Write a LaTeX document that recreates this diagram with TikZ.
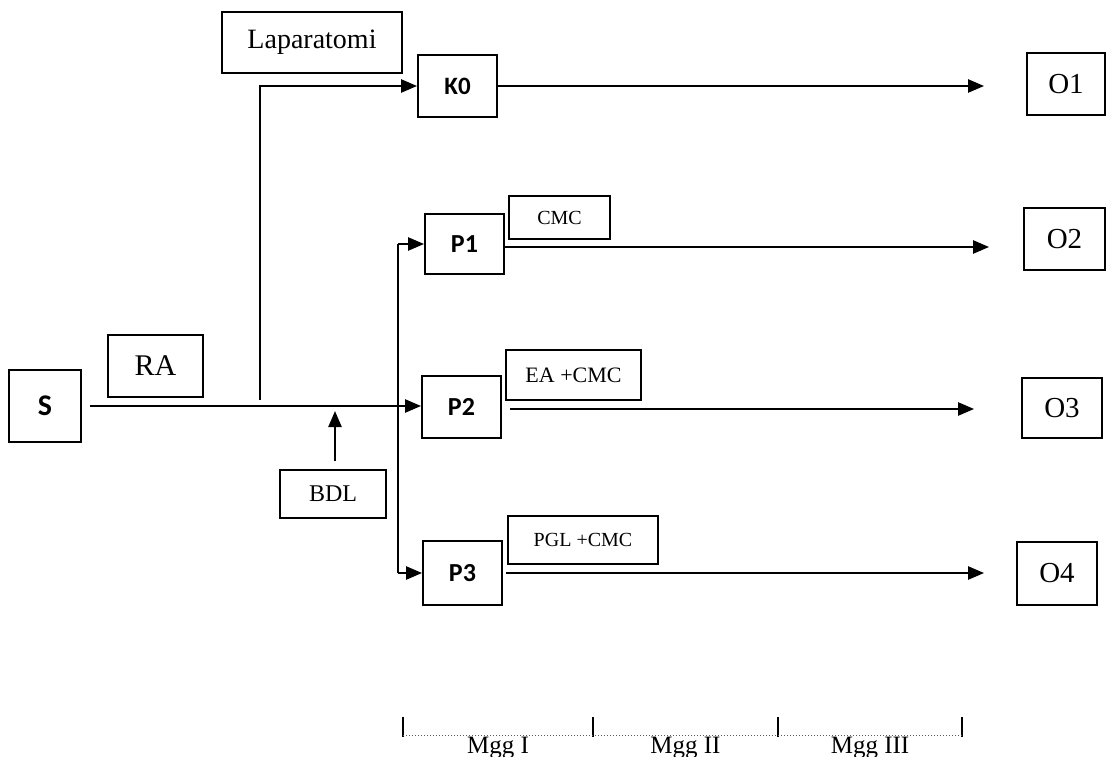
\documentclass[tikz,border=0pt]{standalone}
\usepackage{fontspec}
\setmainfont{Liberation Serif}
\newfontfamily\calib{Carlito}
\usetikzlibrary{arrows.meta,calc}
\tikzset{
  box/.style={draw, line width=1.8pt, rectangle, inner sep=0pt, minimum width=#1},
  sbox/.style={box=79pt, minimum height=62pt, font=\calib\bfseries\fontsize{26}{30}\selectfont},
  obox/.style={box=80pt, minimum height=62pt, font=\fontsize{29}{34}\selectfont},
  lbl/.style={box=#1, font=\fontsize{20}{24}\selectfont},
  conn/.style={line width=2.3pt},
  arr/.style={line width=2.3pt, -{Triangle[length=16pt,width=13pt]}},
  tick/.style={line width=1.6pt},
  mgg/.style={font=\fontsize{25}{30}\selectfont, inner sep=0pt, anchor=north}
}
\begin{document}
\begin{tikzpicture}[x=1pt,y=-1pt]
\useasboundingbox (0,0) rectangle (1106,757);
% nodes
\node[box=72pt, minimum height=72pt, font=\calib\bfseries\fontsize{30}{34}\selectfont] (S) at (45,406) {S};
\node[box=95pt, minimum height=62pt, font=\fontsize{30}{34}\selectfont] (RA) at (155.5,366) {RA};
\node[box=180pt, minimum height=61pt, font=\fontsize{28}{32}\selectfont] (Lap) at (312,42.5) {Laparatomi};
\node[sbox, font=\calib\bfseries\fontsize{25}{28}\selectfont] (K0) at (457.5,86) {K0};
\node[box=106pt, minimum height=48pt, font=\fontsize{24}{28}\selectfont] (BDL) at (333,494) {BDL};
\node[sbox, minimum height=60pt] (P1) at (464.5,244) {P1};
\node[sbox] (P2) at (461.5,407) {P2};
\node[sbox, minimum height=64pt] (P3) at (462.5,573) {P3};
\node[lbl=101pt, minimum height=43pt] (CMC) at (559.5,217.5) {CMC};
\node[lbl=135pt, minimum height=50pt, font=\fontsize{22}{26}\selectfont] (EA) at (573.5,375) {EA +CMC};
\node[lbl=150pt, minimum height=48pt] (PGL) at (583,540) {PGL +CMC};
\node[obox, minimum width=78pt] (O1) at (1066,84) {O1};
\node[obox, minimum width=81pt] (O2) at (1064.5,239) {O2};
\node[obox, minimum height=60pt] (O3) at (1062,408) {O3};
\node[obox, minimum height=63pt] (O4) at (1057,573.5) {O4};
% coordinates
\coordinate (lb) at (260,400);
\coordinate (vt) at (398,244);
\coordinate (vb) at (398,573);
\coordinate (bt) at (335,411);
% connectors
\draw[arr] ([xshift=8pt]S.east) -- (S.east -| P2.west);
\draw[arr] (lb) |- (K0.west);
\draw[conn] (vt) -- (vb);
\draw[arr] (vt) -- (P1.west);
\draw[arr] (vb) -- (P3.west);
\draw[arr] ([yshift=8pt]BDL.north -| bt) -- (bt);
\draw[arr, shorten >=42pt] (K0.east) -- (K0.east -| O1.west);
\draw[arr, shorten >=34pt] ([yshift=-3pt]P1.east) -- ([yshift=-3pt]P1.east -| O2.west);
\draw[arr, shorten >=47pt] ([xshift=8pt,yshift=-2pt]P2.east) -- ([yshift=-2pt]P2.east -| O3.west);
\draw[arr, shorten >=32pt] ([xshift=3pt]P3.east) -- (P3.east -| O4.west);
% time scale
\coordinate (t0) at (403,737);
\coordinate (t1) at (593,737);
\coordinate (t2) at (778,737);
\coordinate (t3) at (962,737);
\foreach \t in {t0,t1,t2,t3} \draw[tick] (\t) -- ++(0,-20);
\draw[line width=1pt, dotted, gray!70!black] ([yshift=2pt]t0) -- ([yshift=2pt]t3);
\node[mgg] (m1) at ($(t0)!0.5!(t1)+(0,0)$) {Mgg I};
\node[mgg] (m2) at ($(t1)!0.5!(t2)$) {Mgg II};
\node[mgg] (m3) at ($(t2)!0.5!(t3)$) {Mgg III};
\end{tikzpicture}
\end{document}
